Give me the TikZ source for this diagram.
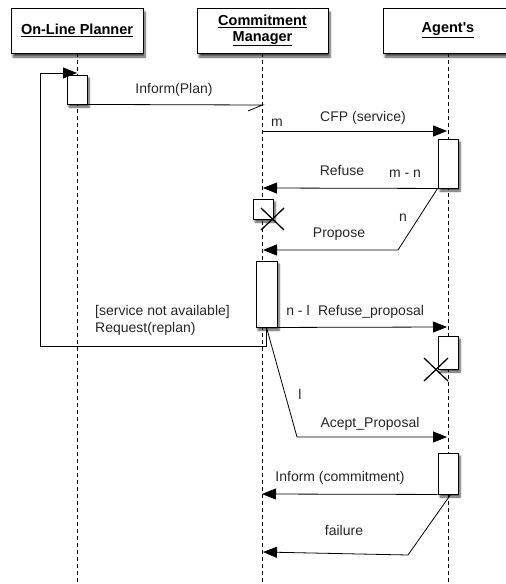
\documentclass[tikz,border=0pt]{standalone}
\usepackage{fontspec}
\setmainfont{Liberation Sans}
\usetikzlibrary{arrows.meta,shadows.blur}
\tikzset{
  lbl/.style={font=\fontsize{14}{17}\selectfont, text=black!85, inner sep=0pt, text height=10pt, text depth=3pt},
  head/.style={draw=black, line width=0.9pt, fill=white, inner sep=0pt, align=center,
    font=\fontsize{14.5}{17}\selectfont\bfseries, blur shadow={shadow xshift=2pt, shadow yshift=-4pt, shadow blur steps=6, shadow opacity=70}},
  actbox/.style={draw=black, line width=0.9pt, fill=white, inner sep=0pt, minimum width=20pt,
    blur shadow={shadow xshift=2pt, shadow yshift=-3pt, shadow blur steps=6, shadow opacity=70}},
  lifeline/.style={line width=0.8pt, dash pattern=on 4pt off 3pt},
  msg/.style={line width=0.8pt, -{Triangle[length=14pt,width=11pt]}},
  plainmsg/.style={line width=0.8pt},
  crossmark/.style={line width=1.3pt},
}
\begin{document}
\begin{tikzpicture}[x=1pt,y=-1pt]
\useasboundingbox (0,0) rectangle (506,584);
\begin{scope}
\clip (0,0) rectangle (506,584);
% lifelines
\draw[lifeline] (77,53) -- (77,584);
\draw[lifeline] (262.5,53) -- (262.5,584);
\draw[lifeline] (448,53) -- (448,584);
% header boxes
\node[head, minimum width=132pt, minimum height=45pt] (pl) at (77,30.5) {\underline{On-Line Planner}};
\node[head, minimum width=131pt, minimum height=45pt] (cm) at (262.5,30.5) {\underline{Commitment}\\[-1pt]\underline{Manager}};
\node[head, minimum width=130pt, minimum height=45pt] (ag) at (448,30.5) {\underline{Agent\textquotesingle s}};
% activation boxes
\node[actbox, minimum height=29pt] (p1) at (77,89.5) {};
\node[actbox, minimum height=49pt] (g1) at (448,163.5) {};
\node[actbox, minimum height=20pt] (cd) at (263,209) {};
\node[actbox, minimum width=21pt, minimum height=66pt] (c2) at (266.5,294) {};
\node[actbox, minimum height=33pt] (g2) at (448,352.5) {};
\node[actbox, minimum height=41pt] (g3) at (448,473.5) {};
% coordinates
\coordinate (r1) at (266.5,346);
\coordinate (r2) at (40,346);
\coordinate (r3) at (40,73);
\coordinate (r4) at (77,73);
\coordinate (ip) at (262.5,105);
\coordinate (ipb) at (248,111);
\coordinate (cf1) at (262.5,131);
\coordinate (cf2) at (447,131);
\coordinate (rf) at (263,188);
\coordinate (pr1) at (398,250);
\coordinate (pr2) at (263,250);
\coordinate (rp) at (447,327);
\coordinate (l1) at (297,437);
\coordinate (l2) at (447,437);
\coordinate (ic) at (262,494);
\coordinate (f0) at (451,494);
\coordinate (f1) at (408,555);
\coordinate (f2) at (263,552);
% messages
\draw[msg] (c2.south) -- (r1) -- (r2) -- (r3) -- (r4);
\draw[plainmsg] (p1.south east) -- (ip) -- (ipb);
\draw[msg] (cf1) -- (cf2);
\draw[msg] (g1.south west) -- (rf);
\draw[msg] (g1.south west) -- (pr1) -- (pr2);
\draw[msg] (c2.south east) -- (rp);
\draw[msg] (c2.south) -- (l1) -- (l2);
\draw[msg] (g3.south west) -- (ic);
\draw[msg] (f0) -- (f1) -- (f2);
% crosses
\draw[crossmark] (261,208) -- (284,230) (261,230) -- (284,208);
\draw[crossmark] (424,358) -- (448,381) (424,381) -- (448,358);
% labels
\node[lbl] (t1) at (174,90) {Inform(Plan)};
\node[lbl] (t2) at (277,123) {m};
\node[lbl] (t3) at (363,118) {CFP (service)};
\node[lbl] (t4) at (342,172) {Refuse};
\node[lbl] (t5) at (405,174) {m - n};
\node[lbl] (t6) at (403,218) {n};
\node[lbl] (t7) at (339,234) {Propose};
\node[lbl] (t8) at (298,312) {n - l};
\node[lbl] (t9) at (371,312) {Refuse\_proposal};
\node[lbl, anchor=west] (t10) at (95,312) {[service not available]};
\node[lbl, anchor=west] (t11) at (95,329) {Request(replan)};
\node[lbl] (t12) at (300,396) {l};
\node[lbl] (t13) at (370,424) {Acept\_Proposal};
\node[lbl] (t14) at (340,478) {Inform (commitment)};
\node[lbl] (t15) at (344,532) {failure};
\end{scope}
\end{tikzpicture}
\end{document}
